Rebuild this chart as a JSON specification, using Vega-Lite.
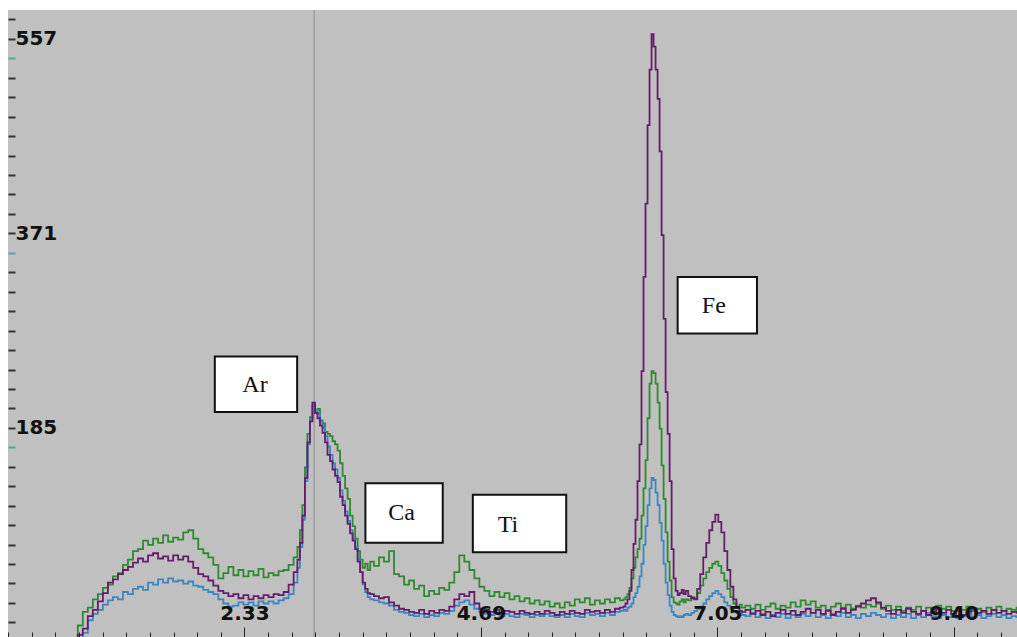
{
  "$schema": "https://vega.github.io/schema/vega-lite/v6.json",
  "width": 1009,
  "height": 627,
  "autosize": {"type": "none"},
  "padding": {"left": 8, "top": 10, "right": 0, "bottom": 0},
  "background": "#ffffff",
  "config": {"view": {"fill": "#c0c0c0", "stroke": null}},
  "datasets": {
    "cursor": [{"e": 3.03}],
    "boxes": [
      {"name": "Ar", "x1": 2.04, "x2": 2.86, "y1": 254, "y2": 201, "tx": 2.44, "ty": 227},
      {"name": "Ca", "x1": 3.54, "x2": 4.31, "y1": 133, "y2": 76, "tx": 3.9, "ty": 104},
      {"name": "Ti", "x1": 4.61, "x2": 5.54, "y1": 122, "y2": 67, "tx": 4.96, "ty": 93},
      {"name": "Fe", "x1": 6.65, "x2": 7.44, "y1": 330, "y2": 276, "tx": 7.01, "ty": 302}
    ],
    "s": [
      {"e": 0.60, "g": -20, "p": -20, "b": -20},
      {"e": 0.65, "g": -16, "p": -20, "b": -20},
      {"e": 0.70, "g": -3, "p": -12, "b": -18},
      {"e": 0.75, "g": 10, "p": -6, "b": -10},
      {"e": 0.80, "g": 14, "p": 6, "b": 2},
      {"e": 0.85, "g": 22, "p": 12, "b": 8},
      {"e": 0.90, "g": 27, "p": 20, "b": 12},
      {"e": 0.95, "g": 33, "p": 28, "b": 17},
      {"e": 1.00, "g": 36, "p": 38, "b": 21},
      {"e": 1.05, "g": 44, "p": 41, "b": 24},
      {"e": 1.10, "g": 47, "p": 46, "b": 22},
      {"e": 1.15, "g": 55, "p": 50, "b": 29},
      {"e": 1.20, "g": 60, "p": 53, "b": 27},
      {"e": 1.25, "g": 68, "p": 57, "b": 32},
      {"e": 1.30, "g": 70, "p": 61, "b": 34},
      {"e": 1.35, "g": 78, "p": 58, "b": 31},
      {"e": 1.40, "g": 74, "p": 64, "b": 38},
      {"e": 1.45, "g": 80, "p": 66, "b": 36},
      {"e": 1.50, "g": 76, "p": 61, "b": 41},
      {"e": 1.55, "g": 83, "p": 63, "b": 38},
      {"e": 1.60, "g": 77, "p": 59, "b": 42},
      {"e": 1.65, "g": 81, "p": 64, "b": 39},
      {"e": 1.70, "g": 79, "p": 60, "b": 40},
      {"e": 1.75, "g": 86, "p": 63, "b": 37},
      {"e": 1.80, "g": 88, "p": 58, "b": 39},
      {"e": 1.85, "g": 80, "p": 52, "b": 35},
      {"e": 1.90, "g": 70, "p": 46, "b": 34},
      {"e": 1.95, "g": 66, "p": 44, "b": 31},
      {"e": 2.00, "g": 62, "p": 40, "b": 29},
      {"e": 2.05, "g": 55, "p": 35, "b": 27},
      {"e": 2.10, "g": 42, "p": 30, "b": 22},
      {"e": 2.15, "g": 47, "p": 28, "b": 18},
      {"e": 2.20, "g": 53, "p": 25, "b": 15},
      {"e": 2.25, "g": 45, "p": 27, "b": 16},
      {"e": 2.30, "g": 50, "p": 23, "b": 19},
      {"e": 2.35, "g": 44, "p": 26, "b": 17},
      {"e": 2.40, "g": 49, "p": 22, "b": 19},
      {"e": 2.45, "g": 45, "p": 25, "b": 16},
      {"e": 2.50, "g": 51, "p": 23, "b": 20},
      {"e": 2.55, "g": 43, "p": 26, "b": 18},
      {"e": 2.60, "g": 47, "p": 24, "b": 20},
      {"e": 2.65, "g": 45, "p": 27, "b": 18},
      {"e": 2.70, "g": 49, "p": 26, "b": 21},
      {"e": 2.75, "g": 50, "p": 29, "b": 23},
      {"e": 2.80, "g": 55, "p": 36, "b": 27},
      {"e": 2.85, "g": 62, "p": 48, "b": 38},
      {"e": 2.875, "g": 72, "p": 60, "b": 52},
      {"e": 2.900, "g": 88, "p": 76, "b": 72},
      {"e": 2.925, "g": 112, "p": 102, "b": 98},
      {"e": 2.950, "g": 148, "p": 138, "b": 135},
      {"e": 2.975, "g": 180, "p": 172, "b": 170},
      {"e": 3.000, "g": 196, "p": 192, "b": 194},
      {"e": 3.025, "g": 207, "p": 210, "b": 208},
      {"e": 3.050, "g": 200, "p": 200, "b": 203},
      {"e": 3.075, "g": 204, "p": 195, "b": 199},
      {"e": 3.100, "g": 193, "p": 188, "b": 192},
      {"e": 3.125, "g": 190, "p": 181, "b": 186},
      {"e": 3.150, "g": 182, "p": 172, "b": 178},
      {"e": 3.175, "g": 180, "p": 160, "b": 168},
      {"e": 3.200, "g": 178, "p": 154, "b": 160},
      {"e": 3.225, "g": 173, "p": 146, "b": 152},
      {"e": 3.250, "g": 170, "p": 140, "b": 146},
      {"e": 3.275, "g": 164, "p": 134, "b": 138},
      {"e": 3.300, "g": 152, "p": 120, "b": 126},
      {"e": 3.325, "g": 140, "p": 112, "b": 116},
      {"e": 3.350, "g": 128, "p": 102, "b": 106},
      {"e": 3.375, "g": 118, "p": 94, "b": 97},
      {"e": 3.400, "g": 102, "p": 85, "b": 88},
      {"e": 3.425, "g": 92, "p": 78, "b": 80},
      {"e": 3.450, "g": 80, "p": 70, "b": 72},
      {"e": 3.475, "g": 68, "p": 58, "b": 60},
      {"e": 3.500, "g": 60, "p": 48, "b": 48},
      {"e": 3.525, "g": 52, "p": 38, "b": 36},
      {"e": 3.550, "g": 56, "p": 32, "b": 29},
      {"e": 3.575, "g": 50, "p": 28, "b": 24},
      {"e": 3.600, "g": 58, "p": 27, "b": 22},
      {"e": 3.65, "g": 54, "p": 25, "b": 21},
      {"e": 3.70, "g": 62, "p": 23, "b": 19},
      {"e": 3.75, "g": 58, "p": 24, "b": 18},
      {"e": 3.80, "g": 68, "p": 19, "b": 16},
      {"e": 3.85, "g": 46, "p": 16, "b": 12},
      {"e": 3.90, "g": 44, "p": 13, "b": 10},
      {"e": 3.95, "g": 36, "p": 12, "b": 9},
      {"e": 4.00, "g": 40, "p": 10, "b": 7},
      {"e": 4.05, "g": 32, "p": 9, "b": 6},
      {"e": 4.10, "g": 35, "p": 12, "b": 8},
      {"e": 4.15, "g": 25, "p": 8, "b": 5},
      {"e": 4.20, "g": 30, "p": 11, "b": 7},
      {"e": 4.25, "g": 27, "p": 9, "b": 6},
      {"e": 4.30, "g": 33, "p": 12, "b": 9},
      {"e": 4.35, "g": 31, "p": 11, "b": 8},
      {"e": 4.40, "g": 38, "p": 15, "b": 11},
      {"e": 4.45, "g": 48, "p": 22, "b": 16},
      {"e": 4.50, "g": 64, "p": 27, "b": 19},
      {"e": 4.55, "g": 58, "p": 25, "b": 21},
      {"e": 4.60, "g": 50, "p": 29, "b": 17},
      {"e": 4.65, "g": 42, "p": 18, "b": 13},
      {"e": 4.70, "g": 34, "p": 13, "b": 10},
      {"e": 4.75, "g": 30, "p": 12, "b": 8},
      {"e": 4.80, "g": 25, "p": 10, "b": 7},
      {"e": 4.85, "g": 29, "p": 12, "b": 9},
      {"e": 4.90, "g": 24, "p": 9, "b": 6},
      {"e": 4.95, "g": 28, "p": 11, "b": 8},
      {"e": 5.00, "g": 22, "p": 10, "b": 6},
      {"e": 5.05, "g": 25, "p": 8, "b": 5},
      {"e": 5.10, "g": 20, "p": 11, "b": 8},
      {"e": 5.15, "g": 23, "p": 9, "b": 7},
      {"e": 5.20, "g": 18, "p": 8, "b": 5},
      {"e": 5.25, "g": 21, "p": 10, "b": 7},
      {"e": 5.30, "g": 17, "p": 8, "b": 6},
      {"e": 5.35, "g": 20, "p": 11, "b": 8},
      {"e": 5.40, "g": 15, "p": 9, "b": 6},
      {"e": 5.45, "g": 18, "p": 7, "b": 5},
      {"e": 5.50, "g": 14, "p": 10, "b": 7},
      {"e": 5.55, "g": 19, "p": 8, "b": 5},
      {"e": 5.60, "g": 16, "p": 11, "b": 8},
      {"e": 5.65, "g": 22, "p": 9, "b": 6},
      {"e": 5.70, "g": 19, "p": 8, "b": 5},
      {"e": 5.75, "g": 23, "p": 12, "b": 9},
      {"e": 5.80, "g": 17, "p": 10, "b": 7},
      {"e": 5.85, "g": 21, "p": 11, "b": 8},
      {"e": 5.90, "g": 18, "p": 9, "b": 6},
      {"e": 5.95, "g": 22, "p": 12, "b": 9},
      {"e": 6.00, "g": 19, "p": 10, "b": 7},
      {"e": 6.05, "g": 23, "p": 13, "b": 10},
      {"e": 6.10, "g": 21, "p": 14, "b": 11},
      {"e": 6.12, "g": 22, "p": 15, "b": 12},
      {"e": 6.14, "g": 24, "p": 18, "b": 11},
      {"e": 6.16, "g": 27, "p": 22, "b": 14},
      {"e": 6.18, "g": 33, "p": 30, "b": 15},
      {"e": 6.20, "g": 42, "p": 50, "b": 18},
      {"e": 6.22, "g": 52, "p": 75, "b": 24},
      {"e": 6.24, "g": 62, "p": 98, "b": 28},
      {"e": 6.26, "g": 70, "p": 135, "b": 34},
      {"e": 6.28, "g": 80, "p": 170, "b": 44},
      {"e": 6.30, "g": 102, "p": 240, "b": 56},
      {"e": 6.32, "g": 128, "p": 330, "b": 74},
      {"e": 6.34, "g": 155, "p": 400, "b": 92},
      {"e": 6.36, "g": 195, "p": 475, "b": 112},
      {"e": 6.38, "g": 228, "p": 528, "b": 128},
      {"e": 6.40, "g": 240, "p": 562, "b": 138},
      {"e": 6.42, "g": 238, "p": 550, "b": 136},
      {"e": 6.44, "g": 228, "p": 528, "b": 124},
      {"e": 6.46, "g": 210, "p": 500, "b": 112},
      {"e": 6.48, "g": 185, "p": 450, "b": 95},
      {"e": 6.50, "g": 150, "p": 370, "b": 78},
      {"e": 6.52, "g": 118, "p": 290, "b": 56},
      {"e": 6.54, "g": 86, "p": 220, "b": 38},
      {"e": 6.56, "g": 58, "p": 180, "b": 26},
      {"e": 6.58, "g": 40, "p": 135, "b": 16},
      {"e": 6.60, "g": 24, "p": 70, "b": 10},
      {"e": 6.62, "g": 19, "p": 42, "b": 7},
      {"e": 6.64, "g": 18, "p": 30, "b": 6},
      {"e": 6.66, "g": 17, "p": 26, "b": 5},
      {"e": 6.68, "g": 20, "p": 28, "b": 6},
      {"e": 6.70, "g": 22, "p": 31, "b": 5},
      {"e": 6.72, "g": 19, "p": 27, "b": 7},
      {"e": 6.74, "g": 22, "p": 30, "b": 8},
      {"e": 6.77, "g": 21, "p": 25, "b": 7},
      {"e": 6.80, "g": 24, "p": 23, "b": 9},
      {"e": 6.83, "g": 23, "p": 22, "b": 11},
      {"e": 6.86, "g": 28, "p": 32, "b": 13},
      {"e": 6.89, "g": 35, "p": 46, "b": 15},
      {"e": 6.92, "g": 42, "p": 62, "b": 18},
      {"e": 6.95, "g": 48, "p": 76, "b": 22},
      {"e": 6.98, "g": 52, "p": 88, "b": 25},
      {"e": 7.01, "g": 56, "p": 96, "b": 28},
      {"e": 7.04, "g": 58, "p": 103, "b": 30},
      {"e": 7.07, "g": 54, "p": 96, "b": 27},
      {"e": 7.10, "g": 47, "p": 86, "b": 24},
      {"e": 7.13, "g": 40, "p": 68, "b": 19},
      {"e": 7.16, "g": 32, "p": 50, "b": 16},
      {"e": 7.19, "g": 24, "p": 34, "b": 13},
      {"e": 7.22, "g": 18, "p": 22, "b": 11},
      {"e": 7.25, "g": 15, "p": 14, "b": 9},
      {"e": 7.28, "g": 17, "p": 11, "b": 8},
      {"e": 7.30, "g": 14, "p": 10, "b": 7},
      {"e": 7.35, "g": 16, "p": 12, "b": 6},
      {"e": 7.40, "g": 13, "p": 8, "b": 9},
      {"e": 7.45, "g": 17, "p": 11, "b": 5},
      {"e": 7.50, "g": 12, "p": 7, "b": 8},
      {"e": 7.55, "g": 15, "p": 10, "b": 4},
      {"e": 7.60, "g": 18, "p": 6, "b": 7},
      {"e": 7.65, "g": 13, "p": 9, "b": 5},
      {"e": 7.70, "g": 16, "p": 12, "b": 8},
      {"e": 7.75, "g": 14, "p": 8, "b": 4},
      {"e": 7.80, "g": 19, "p": 11, "b": 7},
      {"e": 7.85, "g": 15, "p": 7, "b": 5},
      {"e": 7.90, "g": 21, "p": 10, "b": 8},
      {"e": 7.95, "g": 17, "p": 13, "b": 6},
      {"e": 8.00, "g": 20, "p": 9, "b": 9},
      {"e": 8.05, "g": 14, "p": 12, "b": 5},
      {"e": 8.10, "g": 16, "p": 8, "b": 7},
      {"e": 8.15, "g": 12, "p": 11, "b": 4},
      {"e": 8.20, "g": 15, "p": 7, "b": 8},
      {"e": 8.25, "g": 18, "p": 10, "b": 6},
      {"e": 8.30, "g": 14, "p": 13, "b": 9},
      {"e": 8.35, "g": 17, "p": 9, "b": 5},
      {"e": 8.40, "g": 13, "p": 12, "b": 7},
      {"e": 8.45, "g": 16, "p": 15, "b": 4},
      {"e": 8.50, "g": 14, "p": 18, "b": 8},
      {"e": 8.55, "g": 17, "p": 21, "b": 6},
      {"e": 8.60, "g": 15, "p": 23, "b": 9},
      {"e": 8.65, "g": 18, "p": 19, "b": 7},
      {"e": 8.70, "g": 13, "p": 14, "b": 5},
      {"e": 8.75, "g": 16, "p": 11, "b": 8},
      {"e": 8.80, "g": 12, "p": 8, "b": 4},
      {"e": 8.85, "g": 15, "p": 12, "b": 7},
      {"e": 8.90, "g": 11, "p": 9, "b": 5},
      {"e": 8.95, "g": 14, "p": 13, "b": 8},
      {"e": 9.00, "g": 12, "p": 10, "b": 4},
      {"e": 9.05, "g": 15, "p": 8, "b": 7},
      {"e": 9.10, "g": 11, "p": 11, "b": 5},
      {"e": 9.15, "g": 14, "p": 7, "b": 9},
      {"e": 9.20, "g": 12, "p": 10, "b": 6},
      {"e": 9.25, "g": 16, "p": 13, "b": 4},
      {"e": 9.30, "g": 13, "p": 9, "b": 7},
      {"e": 9.35, "g": 15, "p": 12, "b": 5},
      {"e": 9.40, "g": 11, "p": 8, "b": 8},
      {"e": 9.45, "g": 14, "p": 11, "b": 4},
      {"e": 9.50, "g": 12, "p": 7, "b": 6},
      {"e": 9.55, "g": 15, "p": 10, "b": 8},
      {"e": 9.60, "g": 11, "p": 13, "b": 5},
      {"e": 9.65, "g": 13, "p": 9, "b": 7},
      {"e": 9.70, "g": 10, "p": 11, "b": 4},
      {"e": 9.75, "g": 14, "p": 8, "b": 6},
      {"e": 9.80, "g": 12, "p": 12, "b": 8},
      {"e": 9.85, "g": 15, "p": 9, "b": 5},
      {"e": 9.90, "g": 11, "p": 11, "b": 7},
      {"e": 9.95, "g": 13, "p": 8, "b": 4},
      {"e": 10.00, "g": 12, "p": 10, "b": 6},
      {"e": 10.05, "g": 14, "p": 9, "b": 5}
    ]
  },
  "encoding": {
    "x": {
      "type": "quantitative",
      "scale": {"domain": [-0.02, 10.03], "nice": false, "zero": false},
      "axis": {
        "orient": "bottom", "title": null, "domain": false, "grid": false, "zindex": 1,
        "values": [-0.02, 0.2155, 0.451, 0.6865, 0.922, 1.1575, 1.393, 1.6285, 1.864, 2.0995, 2.335, 2.5705, 2.806, 3.0415, 3.277, 3.5125, 3.748, 3.9835, 4.219, 4.4545, 4.69, 4.9255, 5.161, 5.3965, 5.632, 5.8675, 6.103, 6.3385, 6.574, 6.8095, 7.045, 7.2805, 7.516, 7.7515, 7.987, 8.2225, 8.458, 8.6935, 8.929, 9.1645, 9.4, 9.6355, 9.871],
        "tickColor": "#222222", "tickWidth": 1,
        "tickSize": {"condition": {"test": "abs(datum.value-2.335)<0.001 || abs(datum.value-4.69)<0.001 || abs(datum.value-7.045)<0.001 || abs(datum.value-9.4)<0.001", "value": -10}, "value": -5},
        "labelExpr": "abs(datum.value-2.335)<0.001 ? '2.33' : abs(datum.value-4.69)<0.001 ? '4.69' : abs(datum.value-7.045)<0.001 ? '7.05' : abs(datum.value-9.4)<0.001 ? '9.40' : ''",
        "labelFont": "DejaVu Sans", "labelFontWeight": "bold", "labelFontSize": 20, "labelColor": "#111111",
        "labelBaseline": "middle", "labelAlign": "center", "labelPadding": -14,
        "labelOverlap": false, "labelFlush": false, "labelBound": false
      }
    },
    "y": {
      "type": "quantitative",
      "scale": {"domain": [-14, 585], "nice": false, "zero": false},
      "axis": {
        "orient": "left", "title": null, "domain": false, "grid": false, "zindex": 1,
        "values": [575.98, 557.4, 538.82, 520.24, 501.66, 483.08, 464.5, 445.92, 427.34, 408.76, 390.18, 371.6, 353.02, 334.44, 315.86, 297.28, 278.7, 260.12, 241.54, 222.96, 204.38, 185.8, 167.22, 148.64, 130.06, 111.48, 92.9, 74.32, 55.74, 37.16, 18.58, 0],
        "tickSize": -7, "tickWidth": 2,
        "tickColor": {"condition": {"test": "abs(datum.value-538.82)<0.01 || abs(datum.value-353.02)<0.01 || abs(datum.value-167.22)<0.01", "value": "#4fa8a8"}, "value": "#333333"},
        "labelExpr": "abs(datum.value-557.4)<0.01 ? '557' : abs(datum.value-371.6)<0.01 ? '371' : abs(datum.value-185.8)<0.01 ? '185' : ''",
        "labelFont": "DejaVu Sans", "labelFontWeight": "bold", "labelFontSize": 20, "labelColor": "#111111",
        "labelAlign": "left", "labelBaseline": "middle", "labelPadding": 0,
        "labelOverlap": false, "labelFlush": false, "labelBound": false
      }
    }
  },
  "layer": [
    {
      "data": {"name": "cursor"},
      "mark": {"type": "rule", "color": "#8c8c8c", "strokeWidth": 1},
      "encoding": {"x": {"field": "e"}}
    },
    {
      "data": {"name": "s"},
      "mark": {"type": "line", "color": "#2e8a2e", "strokeWidth": 1.8, "interpolate": "step", "clip": true},
      "encoding": {"x": {"field": "e"}, "y": {"field": "g"}}
    },
    {
      "data": {"name": "s"},
      "mark": {"type": "line", "color": "#3a86c4", "strokeWidth": 1.8, "interpolate": "step", "clip": true},
      "encoding": {"x": {"field": "e"}, "y": {"field": "b"}}
    },
    {
      "data": {"name": "s"},
      "mark": {"type": "line", "color": "#661c6c", "strokeWidth": 1.8, "interpolate": "step", "clip": true},
      "encoding": {"x": {"field": "e"}, "y": {"field": "p"}}
    },
    {
      "data": {"name": "boxes"},
      "mark": {"type": "rect", "fill": "#ffffff", "stroke": "#111111", "strokeWidth": 2},
      "encoding": {"x": {"field": "x1"}, "x2": {"field": "x2"}, "y": {"field": "y1"}, "y2": {"field": "y2"}}
    },
    {
      "data": {"name": "boxes"},
      "mark": {"type": "text", "font": "Liberation Serif", "fontSize": 24, "color": "#111111", "align": "center", "baseline": "middle"},
      "encoding": {"x": {"field": "tx"}, "y": {"field": "ty"}, "text": {"field": "name", "type": "nominal"}}
    }
  ]
}
